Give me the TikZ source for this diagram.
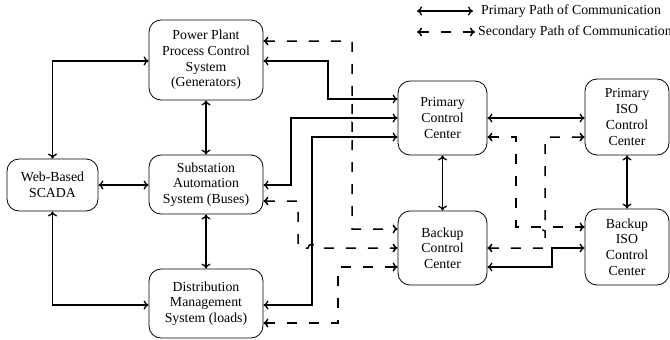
\documentclass[tikz,border=0pt]{standalone}
\usepackage{fontspec}
\setmainfont{Liberation Serif}
\usetikzlibrary{arrows.meta,calc}
\begin{document}
\begin{tikzpicture}[x=1pt,y=-1pt,
  box/.style={draw,rounded corners=12pt,line width=0.8pt,align=center,inner sep=0pt,font=\fontsize{13.8}{15.7}\selectfont},
  lbl/.style={anchor=west,inner sep=0pt,font=\fontsize{13.8}{15.7}\selectfont},
  link/.style={line width=1.3pt,{To[length=5pt,width=9pt]}-{To[length=5pt,width=9pt]}},
  dlink/.style={link,line width=1.5pt,dash pattern=on 10pt off 12pt},
]
\useasboundingbox (0,0) rectangle (670,340);

% nodes
\node[box,minimum width=114pt,minimum height=80pt] (pp) at (206,60) {Power Plant\\Process Control\\System\\(Generators)};
\node[box,minimum width=91pt,minimum height=52pt] (web) at (52.5,185) {Web-Based\\SCADA};
\node[box,minimum width=114pt,minimum height=59pt] (sub) at (206,184.5) {Substation\\Automation\\System (Buses)};
\node[box,minimum width=114pt,minimum height=69pt] (dist) at (206,303.5) {Distribution\\Management\\System (loads)};
\node[box,minimum width=89pt,minimum height=74pt] (pcc) at (442.5,118) {Primary\\Control\\Center};
\node[box,minimum width=89pt,minimum height=74pt] (bcc) at (442.5,248) {Backup\\Control\\Center};
\node[box,minimum width=84pt,minimum height=76pt] (piso) at (627,117) {Primary\\ISO\\Control\\Center};
\node[box,minimum width=84pt,minimum height=76pt] (biso) at (627,247) {Backup\\ISO\\Control\\Center};

% legend
\node[lbl] (lp) at (481,11) {Primary Path of Communication};
\node[lbl] (ls) at (478,32) {Secondary Path of Communication};
\coordinate (lpa) at (417,11);
\coordinate (lsa) at (417,32);
\draw[link] (lpa) -- ([xshift=-8pt]lp.west);
\draw[dlink] (lsa) -- ([xshift=-3pt]ls.west);

% left column
\draw[link] (web.north) |- ($(pp.west)+(0,1)$);
\draw[link] (web.east) -- (sub.west |- web.east);
\draw[link] (web.south) |- ($(dist.west)+(0,1.5)$);
\draw[link] (pp.south) -- (sub.north);
\draw[link] (sub.south) -- (dist.north);

% solid to primary control center
\draw[link] ($(pp.east)+(0,1)$) -- (328,61) -- (328,99) -- ($(pcc.west)+(0,-19)$);
\draw[link] ($(sub.east)+(0,0.5)$) -- (291,185) -- (291,118) -- (pcc.west);
\draw[link] ($(dist.east)+(0,1.5)$) -- (312,305) -- (312,137) -- ($(pcc.west)+(0,19)$);

% dashed to backup control center
\draw[dlink] ($(pp.east)+(0,-19)$) -- (352,41) -- (352,95)
  .. controls (357,95) and (357,103) .. (352,103) -- (352,114)
  .. controls (357,114) and (357,122) .. (352,122) -- (352,133)
  .. controls (357,133) and (357,141) .. (352,141) -- (352,229) -- ($(bcc.west)+(0,-19)$);
\draw[dlink] ($(sub.east)+(0,16.5)$) -- (298,201) -- (298,248) -- (308,248)
  .. controls (308,243) and (316,243) .. (316,248) -- (bcc.west);
\draw[dlink] ($(dist.east)+(0,19.5)$) -- (338,323) -- (338,267) -- ($(bcc.west)+(0,19)$);

% vertical links
\draw[link] (pcc.south) -- (bcc.north);
\draw[link] (piso.south) -- (biso.north);

% right side
\draw[link] (pcc.east) -- (piso.west |- pcc.east);
\draw[dlink] ($(pcc.east)+(0,19)$) -- (516,137) -- (516,227) -- ($(biso.west)+(0,-20)$);
\draw[dlink] (bcc.east) -- (545,248) -- (545,231)
  .. controls (540,231) and (540,223) .. (545,223) -- (545,137) -- ($(piso.west)+(0,20)$);
\draw[link] ($(bcc.east)+(0,19)$) -- (552,267) -- (552,248) -- ($(biso.west)+(0,1)$);
\end{tikzpicture}
\end{document}
